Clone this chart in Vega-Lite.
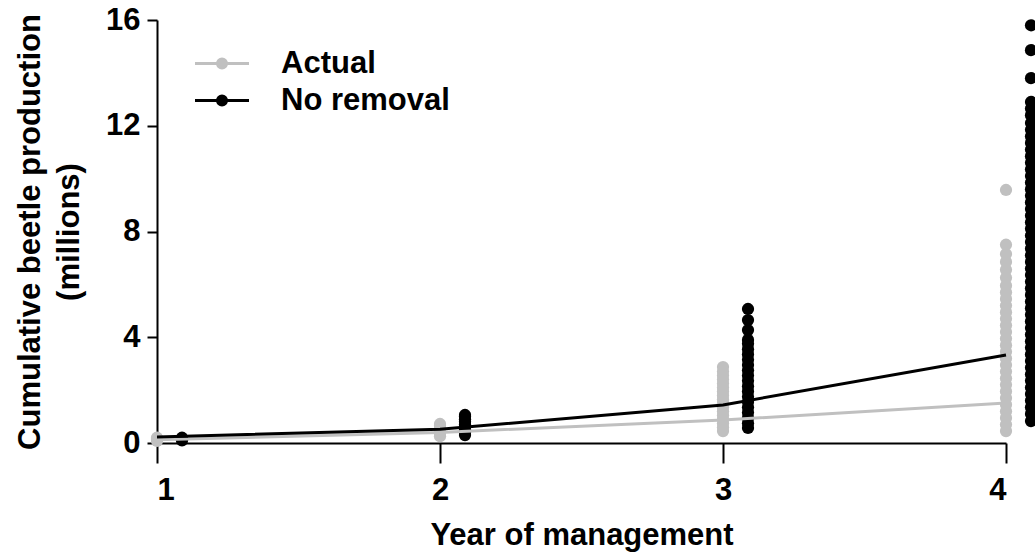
{
  "$schema": "https://vega.github.io/schema/vega-lite/v6.json",
  "width": 849,
  "height": 423,
  "autosize": {"type": "none"},
  "padding": {"left": 157, "top": 20, "right": 29, "bottom": 109},
  "background": "white",
  "datasets": {
    "points": [
      {"year": 1, "group": "Actual", "beetles": 0.08}, {"year": 1, "group": "Actual", "beetles": 0.12}, {"year": 1, "group": "Actual", "beetles": 0.16}, {"year": 1, "group": "Actual", "beetles": 0.2},
      {"year": 1, "group": "No removal", "beetles": 0.1}, {"year": 1, "group": "No removal", "beetles": 0.15}, {"year": 1, "group": "No removal", "beetles": 0.2},
      {"year": 2, "group": "Actual", "beetles": 0.26}, {"year": 2, "group": "Actual", "beetles": 0.35}, {"year": 2, "group": "Actual", "beetles": 0.45}, {"year": 2, "group": "Actual", "beetles": 0.55}, {"year": 2, "group": "Actual", "beetles": 0.65}, {"year": 2, "group": "Actual", "beetles": 0.72},
      {"year": 2, "group": "No removal", "beetles": 0.3}, {"year": 2, "group": "No removal", "beetles": 0.4}, {"year": 2, "group": "No removal", "beetles": 0.5}, {"year": 2, "group": "No removal", "beetles": 0.6}, {"year": 2, "group": "No removal", "beetles": 0.7}, {"year": 2, "group": "No removal", "beetles": 0.8}, {"year": 2, "group": "No removal", "beetles": 0.9}, {"year": 2, "group": "No removal", "beetles": 1.0}, {"year": 2, "group": "No removal", "beetles": 1.06},
      {"year": 3, "group": "Actual", "beetles": 0.45}, {"year": 3, "group": "Actual", "beetles": 0.6}, {"year": 3, "group": "Actual", "beetles": 0.75}, {"year": 3, "group": "Actual", "beetles": 0.9}, {"year": 3, "group": "Actual", "beetles": 1.05}, {"year": 3, "group": "Actual", "beetles": 1.2}, {"year": 3, "group": "Actual", "beetles": 1.35}, {"year": 3, "group": "Actual", "beetles": 1.5}, {"year": 3, "group": "Actual", "beetles": 1.65}, {"year": 3, "group": "Actual", "beetles": 1.8}, {"year": 3, "group": "Actual", "beetles": 1.95}, {"year": 3, "group": "Actual", "beetles": 2.1}, {"year": 3, "group": "Actual", "beetles": 2.25}, {"year": 3, "group": "Actual", "beetles": 2.4}, {"year": 3, "group": "Actual", "beetles": 2.55}, {"year": 3, "group": "Actual", "beetles": 2.7}, {"year": 3, "group": "Actual", "beetles": 2.87},
      {"year": 3, "group": "No removal", "beetles": 0.57}, {"year": 3, "group": "No removal", "beetles": 0.75}, {"year": 3, "group": "No removal", "beetles": 0.95}, {"year": 3, "group": "No removal", "beetles": 1.15}, {"year": 3, "group": "No removal", "beetles": 1.35}, {"year": 3, "group": "No removal", "beetles": 1.55}, {"year": 3, "group": "No removal", "beetles": 1.75}, {"year": 3, "group": "No removal", "beetles": 1.95}, {"year": 3, "group": "No removal", "beetles": 2.15}, {"year": 3, "group": "No removal", "beetles": 2.35}, {"year": 3, "group": "No removal", "beetles": 2.55}, {"year": 3, "group": "No removal", "beetles": 2.75}, {"year": 3, "group": "No removal", "beetles": 2.95}, {"year": 3, "group": "No removal", "beetles": 3.15}, {"year": 3, "group": "No removal", "beetles": 3.35}, {"year": 3, "group": "No removal", "beetles": 3.55}, {"year": 3, "group": "No removal", "beetles": 3.75}, {"year": 3, "group": "No removal", "beetles": 3.9}, {"year": 3, "group": "No removal", "beetles": 4.27}, {"year": 3, "group": "No removal", "beetles": 4.65}, {"year": 3, "group": "No removal", "beetles": 5.07},
      {"year": 4, "group": "Actual", "beetles": 0.45}, {"year": 4, "group": "Actual", "beetles": 0.7}, {"year": 4, "group": "Actual", "beetles": 0.95}, {"year": 4, "group": "Actual", "beetles": 1.2}, {"year": 4, "group": "Actual", "beetles": 1.45}, {"year": 4, "group": "Actual", "beetles": 1.7}, {"year": 4, "group": "Actual", "beetles": 1.95}, {"year": 4, "group": "Actual", "beetles": 2.2}, {"year": 4, "group": "Actual", "beetles": 2.45}, {"year": 4, "group": "Actual", "beetles": 2.7}, {"year": 4, "group": "Actual", "beetles": 2.95}, {"year": 4, "group": "Actual", "beetles": 3.2}, {"year": 4, "group": "Actual", "beetles": 3.45}, {"year": 4, "group": "Actual", "beetles": 3.7}, {"year": 4, "group": "Actual", "beetles": 3.95}, {"year": 4, "group": "Actual", "beetles": 4.2}, {"year": 4, "group": "Actual", "beetles": 4.45}, {"year": 4, "group": "Actual", "beetles": 4.7}, {"year": 4, "group": "Actual", "beetles": 4.95}, {"year": 4, "group": "Actual", "beetles": 5.2}, {"year": 4, "group": "Actual", "beetles": 5.45}, {"year": 4, "group": "Actual", "beetles": 5.7}, {"year": 4, "group": "Actual", "beetles": 5.95}, {"year": 4, "group": "Actual", "beetles": 6.25}, {"year": 4, "group": "Actual", "beetles": 6.55}, {"year": 4, "group": "Actual", "beetles": 6.85}, {"year": 4, "group": "Actual", "beetles": 7.15}, {"year": 4, "group": "Actual", "beetles": 7.5}, {"year": 4, "group": "Actual", "beetles": 9.57},
      {"year": 4, "group": "No removal", "beetles": 0.83}, {"year": 4, "group": "No removal", "beetles": 1.1}, {"year": 4, "group": "No removal", "beetles": 1.35}, {"year": 4, "group": "No removal", "beetles": 1.6}, {"year": 4, "group": "No removal", "beetles": 1.85}, {"year": 4, "group": "No removal", "beetles": 2.1}, {"year": 4, "group": "No removal", "beetles": 2.35}, {"year": 4, "group": "No removal", "beetles": 2.6}, {"year": 4, "group": "No removal", "beetles": 2.85}, {"year": 4, "group": "No removal", "beetles": 3.1}, {"year": 4, "group": "No removal", "beetles": 3.35}, {"year": 4, "group": "No removal", "beetles": 3.6}, {"year": 4, "group": "No removal", "beetles": 3.85}, {"year": 4, "group": "No removal", "beetles": 4.1}, {"year": 4, "group": "No removal", "beetles": 4.35}, {"year": 4, "group": "No removal", "beetles": 4.6}, {"year": 4, "group": "No removal", "beetles": 4.85}, {"year": 4, "group": "No removal", "beetles": 5.1}, {"year": 4, "group": "No removal", "beetles": 5.35}, {"year": 4, "group": "No removal", "beetles": 5.6}, {"year": 4, "group": "No removal", "beetles": 5.85}, {"year": 4, "group": "No removal", "beetles": 6.1}, {"year": 4, "group": "No removal", "beetles": 6.35}, {"year": 4, "group": "No removal", "beetles": 6.6}, {"year": 4, "group": "No removal", "beetles": 6.85}, {"year": 4, "group": "No removal", "beetles": 7.1}, {"year": 4, "group": "No removal", "beetles": 7.35}, {"year": 4, "group": "No removal", "beetles": 7.6}, {"year": 4, "group": "No removal", "beetles": 7.85}, {"year": 4, "group": "No removal", "beetles": 8.1}, {"year": 4, "group": "No removal", "beetles": 8.35}, {"year": 4, "group": "No removal", "beetles": 8.6}, {"year": 4, "group": "No removal", "beetles": 8.85}, {"year": 4, "group": "No removal", "beetles": 9.1}, {"year": 4, "group": "No removal", "beetles": 9.35}, {"year": 4, "group": "No removal", "beetles": 9.6}, {"year": 4, "group": "No removal", "beetles": 9.85}, {"year": 4, "group": "No removal", "beetles": 10.1}, {"year": 4, "group": "No removal", "beetles": 10.35}, {"year": 4, "group": "No removal", "beetles": 10.6}, {"year": 4, "group": "No removal", "beetles": 10.85}, {"year": 4, "group": "No removal", "beetles": 11.1}, {"year": 4, "group": "No removal", "beetles": 11.35}, {"year": 4, "group": "No removal", "beetles": 11.6}, {"year": 4, "group": "No removal", "beetles": 11.85}, {"year": 4, "group": "No removal", "beetles": 12.1}, {"year": 4, "group": "No removal", "beetles": 12.4}, {"year": 4, "group": "No removal", "beetles": 12.65}, {"year": 4, "group": "No removal", "beetles": 12.9}, {"year": 4, "group": "No removal", "beetles": 13.8}, {"year": 4, "group": "No removal", "beetles": 14.86}, {"year": 4, "group": "No removal", "beetles": 15.8}
    ],
    "means": [
      {"year": 1, "group": "Actual", "beetles": 0.12}, {"year": 2, "group": "Actual", "beetles": 0.4}, {"year": 3, "group": "Actual", "beetles": 0.87}, {"year": 4, "group": "Actual", "beetles": 1.51},
      {"year": 1, "group": "No removal", "beetles": 0.23}, {"year": 2, "group": "No removal", "beetles": 0.52}, {"year": 3, "group": "No removal", "beetles": 1.44}, {"year": 4, "group": "No removal", "beetles": 3.33}
    ]
  },
  "encoding": {
    "x": {
      "field": "year", "type": "quantitative",
      "scale": {"domain": [1, 4], "nice": false, "zero": false},
      "axis": {"values": [1, 2, 3, 4], "format": "d", "tickSize": 20, "labelPadding": 12, "labelBaseline": "top",
               "title": "Year of management", "titleBaseline": "alphabetic", "titleY": 101, "titleX": 424.5, "titleAlign": "center"}
    },
    "y": {
      "field": "beetles", "type": "quantitative",
      "scale": {"domain": [0, 16], "nice": false},
      "axis": {"values": [0, 4, 8, 12, 16], "tickSize": 10, "labelPadding": 7,
               "title": ["Cumulative beetle production", "(millions)"], "titleAngle": 270, "titleBaseline": "middle", "titleAlign": "center",
               "titleX": -127, "titleY": 211.5, "titleLineHeight": 39}
    },
    "color": {
      "field": "group", "type": "nominal",
      "scale": {"domain": ["Actual", "No removal"], "range": ["#c0c0c0", "#000000"]},
      "legend": {
        "title": null, "orient": "none", "legendX": 49.5, "legendY": 28, "padding": 0,
        "symbolType": "M-3,0L3,0M-0.5,0A0.5,0.5,0,1,1,0.5,0A0.5,0.5,0,1,1,-0.5,0Z",
        "symbolSize": 324, "symbolStrokeWidth": 3, "labelOffset": 43.5, "rowPadding": 5, "labelLimit": 0,
        "labelFont": "Liberation Sans", "labelFontWeight": "bold", "labelFontSize": 31, "labelColor": "#000",
        "encode": {"symbols": {"update": {
          "fill": {"scale": "color", "field": "value"},
          "stroke": {"scale": "color", "field": "value"},
          "strokeWidth": {"value": 3}, "opacity": {"value": 1}}}}
      }
    }
  },
  "layer": [
    {
      "data": {"name": "points"},
      "transform": [{"filter": "datum.group === 'Actual'"}],
      "mark": {"type": "point", "filled": true, "shape": "circle", "size": 150, "opacity": 1, "strokeWidth": 0}
    },
    {
      "data": {"name": "points"},
      "transform": [{"filter": "datum.group === 'No removal'"}],
      "mark": {"type": "point", "filled": true, "shape": "circle", "size": 150, "opacity": 1, "strokeWidth": 0, "xOffset": 25}
    },
    {
      "data": {"name": "means"},
      "mark": {"type": "line", "strokeWidth": 3}
    }
  ],
  "config": {
    "view": {"stroke": null},
    "axis": {
      "grid": false,
      "labelFont": "Liberation Sans", "labelFontWeight": "bold", "labelFontSize": 31, "labelColor": "#000",
      "titleFont": "Liberation Sans", "titleFontWeight": "bold", "titleFontSize": 31, "titleColor": "#000",
      "domainColor": "#000", "domainWidth": 2, "tickColor": "#000", "tickWidth": 2
    }
  }
}
